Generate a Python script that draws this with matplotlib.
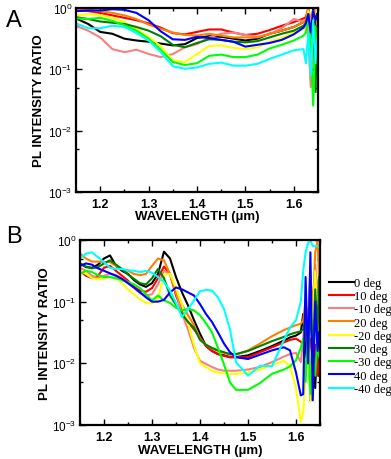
import numpy as np
import matplotlib
matplotlib.use("Agg")
import matplotlib.pyplot as plt
from matplotlib.ticker import LogLocator, MultipleLocator, FixedLocator, NullFormatter
from matplotlib.lines import Line2D

plt.rcParams['font.family'] = ['Liberation Sans', 'DejaVu Sans']
plt.rcParams['mathtext.fontset'] = 'custom'
plt.rcParams['mathtext.rm'] = 'Liberation Sans:bold'
plt.rcParams['mathtext.it'] = 'Liberation Sans:bold'
plt.rcParams['mathtext.bf'] = 'Liberation Sans:bold'

labels = ['0 deg', '10 deg', '-10 deg', '20 deg', '-20 deg', '30 deg', '-30 deg', '40 deg', '-40 deg']
colors = ['#000000', '#ff0000', '#f88080', '#ff8000', '#ffff00', '#008000', '#00ff00', '#0000ff', '#00ffff']

# ---------- Panel A (values are log10 of PL intensity ratio) ----------
wl_A = [1.15, 1.175, 1.2, 1.225, 1.25, 1.275, 1.3, 1.325, 1.35, 1.375, 1.4, 1.425, 1.45,
        1.475, 1.5, 1.525, 1.55, 1.575, 1.6, 1.62,
        1.625, 1.63, 1.635, 1.64, 1.645, 1.648]
A_0 = [-0.17, -0.26, -0.39, -0.42, -0.50, -0.53, -0.55, -0.58, -0.61, -0.59, -0.49, -0.46, -0.47,
       -0.50, -0.53, -0.50, -0.42, -0.37, -0.31, -0.23, -0.20, -0.05, -0.40, 0.0, -0.30, -0.10]
A_p10 = [-0.04, -0.05, -0.08, -0.12, -0.16, -0.20, -0.25, -0.32, -0.41, -0.43, -0.39, -0.35, -0.35,
         -0.40, -0.44, -0.42, -0.36, -0.29, -0.23, -0.17, -0.15, 0.0, -0.30, -0.05, -0.20, 0.0]
A_m10 = [-0.29, -0.37, -0.48, -0.67, -0.72, -0.68, -0.75, -0.80, -0.75, -0.64, -0.59, -0.48, -0.42,
         -0.40, -0.44, -0.47, -0.43, -0.33, -0.18, -0.22, -0.20, -0.50, -1.29, -0.30, -0.60, -0.20]
A_p20 = [-0.02, -0.03, -0.05, -0.08, -0.12, -0.18, -0.27, -0.34, -0.40, -0.44, -0.45, -0.42, -0.45,
         -0.48, -0.48, -0.48, -0.42, -0.37, -0.31, -0.23, -0.20, 0.0, -0.25, -0.05, -0.10, 0.0]
A_m20 = [-0.12, -0.10, -0.12, -0.16, -0.23, -0.35, -0.47, -0.62, -0.86, -0.88, -0.75, -0.62, -0.61,
         -0.65, -0.67, -0.64, -0.55, -0.49, -0.40, -0.34, -0.30, -0.05, -0.40, -0.10, -0.20, 0.0]
A_p30 = [-0.15, -0.18, -0.22, -0.24, -0.26, -0.31, -0.37, -0.46, -0.60, -0.64, -0.57, -0.51, -0.52,
         -0.55, -0.56, -0.54, -0.48, -0.42, -0.37, -0.29, -0.25, -0.10, -0.50, -0.20, -1.37, -0.30]
A_m30 = [-0.17, -0.18, -0.16, -0.21, -0.28, -0.37, -0.50, -0.68, -0.88, -0.93, -0.90, -0.78, -0.76,
         -0.80, -0.80, -0.76, -0.66, -0.60, -0.53, -0.45, -0.40, -0.10, -0.60, -1.59, -0.30, -0.80]
A_p40 = [-0.05, -0.04, -0.04, -0.02, -0.03, -0.08, -0.20, -0.38, -0.51, -0.52, -0.47, -0.49, -0.52,
         -0.55, -0.63, -0.60, -0.57, -0.52, -0.43, -0.32, -0.25, -0.10, -0.40, -0.05, -0.20, -0.10]
A_m40 = [-0.25, -0.33, -0.33, -0.29, -0.31, -0.41, -0.53, -0.72, -0.95, -0.99, -0.97, -0.91, -0.89,
         -0.94, -0.94, -0.91, -0.83, -0.76, -0.69, -0.67, -0.90, -0.40, -1.10, -0.20, -0.90, -0.50]

# ---------- Panel B (values are log10 of PL intensity ratio) ----------
wl_B = [1.15, 1.1625, 1.175, 1.1875, 1.2, 1.2125, 1.225, 1.2375, 1.25, 1.2625, 1.275, 1.2875,
        1.3, 1.3125, 1.325, 1.3375, 1.35, 1.3625, 1.375, 1.3875, 1.4, 1.4125, 1.425, 1.4375,
        1.45, 1.4625, 1.475, 1.5, 1.525, 1.55, 1.575, 1.5875, 1.6, 1.61,
        1.615, 1.62, 1.625, 1.63, 1.635, 1.64, 1.645, 1.648]
B_0 = [-0.38, -0.44, -0.45, -0.40, -0.30, -0.25, -0.42, -0.50, -0.55, -0.65, -0.72, -0.76,
       -0.70, -0.55, -0.19, -0.30, -0.60, -0.85, -1.06, -1.30, -1.52, -1.72, -1.80, -1.85,
       -1.87, -1.90, -1.90, -1.87, -1.80, -1.72, -1.63, -1.58, -1.55, -1.50,
       -1.2, -1.9, -1.4, -2.6, -1.3, -2.4, -1.5, -2.2]
B_p10 = [-0.50, -0.58, -0.62, -0.58, -0.45, -0.42, -0.50, -0.58, -0.66, -0.76, -0.82, -0.84,
         -0.78, -0.62, -0.43, -0.55, -0.90, -1.15, -1.33, -1.45, -1.58, -1.72, -1.80, -1.85,
         -1.88, -1.90, -1.90, -1.90, -1.82, -1.74, -1.66, -1.62, -1.60, -1.65,
         -1.7, -1.5, -1.9, -1.6, -2.0, -1.7, -2.2, -1.8]
B_m10 = [-0.45, -0.50, -0.58, -0.62, -0.58, -0.55, -0.57, -0.62, -0.70, -0.78, -0.86, -0.90,
         -0.88, -0.72, -0.50, -0.55, -0.85, -1.20, -1.45, -1.75, -1.96, -2.01, -2.06, -2.10,
         -2.12, -2.12, -2.12, -2.10, -2.06, -1.98, -1.89, -1.85, -1.83, -1.98,
         -1.6, -1.0, -1.4, -0.6, -1.2, -0.4, -0.9, -0.6]
B_p20 = [-0.22, -0.30, -0.35, -0.35, -0.36, -0.36, -0.42, -0.48, -0.50, -0.55, -0.57, -0.55,
         -0.42, -0.30, -0.33, -0.55, -0.85, -1.05, -1.22, -1.38, -1.60, -1.70, -1.76, -1.80,
         -1.83, -1.86, -1.86, -1.79, -1.68, -1.56, -1.46, -1.42, -1.38, -1.36,
         -1.3, -1.0, -1.5, -0.5, -1.2, -0.2, 0.0, -0.6]
B_m20 = [-0.50, -0.55, -0.62, -0.64, -0.62, -0.60, -0.62, -0.70, -0.80, -0.88, -0.96, -1.02,
         -1.03, -0.95, -0.56, -0.55, -0.78, -1.05, -1.35, -1.70, -2.00, -2.06, -2.12, -2.15,
         -2.16, -2.17, -2.17, -2.15, -2.10, -2.03, -1.96, -2.04, -2.40, -2.95,
         -2.8, -2.2, -1.6, -2.6, -1.2, -0.5, -1.5, -0.8]
B_p30 = [-0.38, -0.43, -0.46, -0.44, -0.38, -0.33, -0.40, -0.47, -0.56, -0.63, -0.70, -0.72,
         -0.62, -0.47, -0.62, -0.90, -1.05, -1.20, -1.33, -1.42, -1.62, -1.70, -1.75, -1.79,
         -1.82, -1.85, -1.85, -1.80, -1.72, -1.64, -1.57, -1.53, -1.50, -1.48,
         -1.45, -1.3, -2.0, -1.0, -2.1, -0.8, -1.5, -0.6]
B_m30 = [-0.55, -0.50, -0.52, -0.57, -0.60, -0.60, -0.62, -0.65, -0.68, -0.72, -0.78, -0.88,
         -0.98, -0.90, -0.98, -1.02, -1.10, -1.14, -1.12, -1.14, -1.22, -1.35, -1.50, -1.75,
         -2.02, -2.31, -2.43, -2.43, -2.32, -2.17, -2.10, -2.05, -1.95, -1.75,
         -1.6, -2.3, -1.4, -2.5, -1.8, -2.2, -1.6, -1.9]
B_p40 = [-0.42, -0.38, -0.40, -0.46, -0.50, -0.54, -0.58, -0.63, -0.70, -0.77, -0.85, -0.93,
         -1.00, -1.00, -0.97, -0.85, -0.77, -0.80, -0.85, -0.90, -1.04, -1.20, -1.33, -1.50,
         -1.68, -1.82, -1.90, -1.93, -1.86, -1.79, -1.74, -1.79, -2.15, -2.52,
         -2.5, -0.6, -2.0, -0.2, -2.6, -1.0, -1.8, -1.5]
B_m40 = [-0.30, -0.22, -0.20, -0.28, -0.36, -0.45, -0.47, -0.47, -0.49, -0.50, -0.52, -0.50,
         -0.53, -0.60, -0.68, -0.82, -1.02, -1.25, -1.12, -0.98, -0.83, -0.81, -0.82, -0.93,
         -1.12, -1.45, -1.98, -2.20, -2.04, -2.05, -1.62, -1.42, -1.30, -1.00,
         -0.5, -0.2, -0.05, 0.0, -0.1, -0.1, -0.1, -0.1]

A_series = [A_0, A_p10, A_m10, A_p20, A_m20, A_p30, A_m30, A_p40, A_m40]
B_series = [B_0, B_p10, B_m10, B_p20, B_m20, B_p30, B_m30, B_p40, B_m40]

W, H = 391, 460
fig = plt.figure(figsize=(W / 100, H / 100), dpi=100)

def box(l, t, r, b):
    return [l / W, 1 - b / H, (r - l) / W, (b - t) / H]

axA = fig.add_axes(box(76, 9, 318, 193))
axB = fig.add_axes(box(80, 241, 320, 426))

def style(ax, ylab_x, xlab_y):
    ax.set_yscale('log')
    ax.set_xlim(1.15, 1.65)
    ax.set_ylim(1e-3, 1)
    ax.xaxis.set_major_locator(FixedLocator([1.2, 1.3, 1.4, 1.5, 1.6]))
    ax.xaxis.set_minor_locator(MultipleLocator(0.05))
    ax.yaxis.set_major_locator(LogLocator(base=10, numticks=10))
    ax.yaxis.set_minor_locator(LogLocator(base=10, subs=[5.0], numticks=10))
    ax.yaxis.set_minor_formatter(NullFormatter())
    ax.tick_params(which='both', direction='in', top=True, right=True, width=1.0)
    ax.tick_params(which='major', length=4.5)
    ax.tick_params(which='minor', length=2.5)
    ax.tick_params(axis='x', labelsize=9, pad=4)
    ax.tick_params(axis='y', labelsize=8.5, pad=2.5)
    for lab in ax.get_xticklabels():
        lab.set_fontweight('bold')
    for s in ax.spines.values():
        s.set_linewidth(1.6)
    ax.set_ylabel('PL INTENSITY RATIO', fontsize=9.5, fontweight='bold')
    ax.set_xlabel('WAVELENGTH (µm)', fontsize=9.5, fontweight='bold')
    ax.yaxis.set_label_coords(ylab_x, 0.5)
    ax.xaxis.set_label_coords(0.5, xlab_y)

for vals, c in zip(A_series, colors):
    axA.plot(wl_A, 10 ** np.array(vals), color=c, lw=1.5)
for vals, c in zip(B_series, colors):
    axB.plot(wl_B, 10 ** np.array(vals), color=c, lw=1.5)

style(axA, (45 - 76) / 242, -(211 - 193) / 184)
style(axB, (51 - 80) / 240, -(445 - 426) / 185)

fig.text(14 / W, 1 - 21 / H, 'A', fontsize=17, ha='center', va='center')
fig.text(14 / W, 1 - 237 / H, 'B', fontsize=17, ha='center', va='center')

handles = [Line2D([], [], color=c, lw=1.5) for c in colors]
fig.legend(handles, labels, loc='upper left', bbox_to_anchor=(329 / W, 1 - 278 / H),
           frameon=False, prop={'family': 'Liberation Serif', 'size': 9},
           handlelength=2.0, handletextpad=0.0, labelspacing=0.1, borderpad=0,
           borderaxespad=0)

fig.savefig('out.png', dpi=100)
